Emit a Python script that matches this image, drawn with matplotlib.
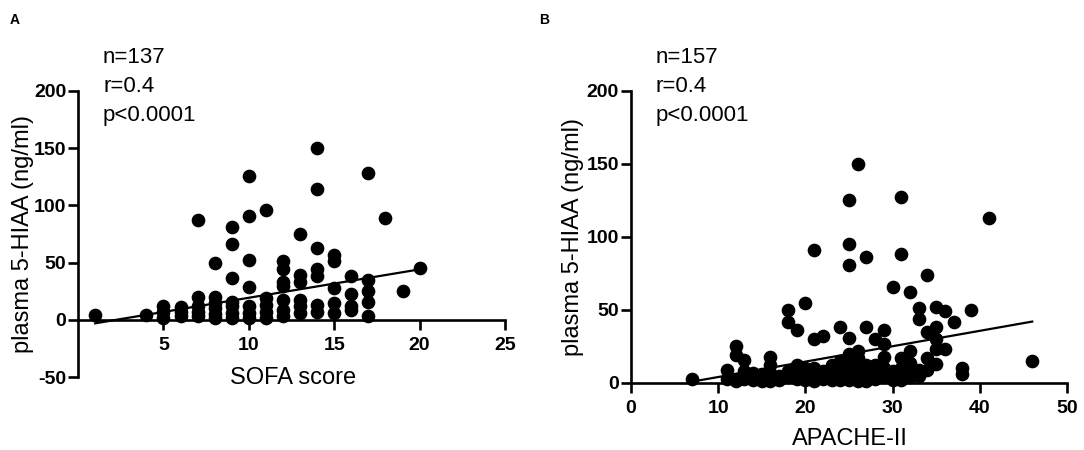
import numpy as np
import matplotlib
matplotlib.use("Agg")
import matplotlib.pyplot as plt

plt.rcParams['font.family'] = ['Liberation Sans', 'DejaVu Sans']
plt.rcParams['axes.unicode_minus'] = False

# panel A: SOFA score vs plasma 5-HIAA
sofa_x = [1, 4, 5, 5, 5, 6, 6, 6,
          7, 7, 7, 7, 7,
          8, 8, 8, 8, 8, 8,
          9, 9, 9, 9, 9, 9, 9,
          10, 10, 10, 10, 10, 10, 10,
          11, 11, 11, 11, 11,
          12, 12, 12, 12, 12, 12, 12,
          13, 13, 13, 13, 13, 13,
          14, 14, 14, 14, 14, 14, 14,
          15, 15, 15, 15, 15,
          16, 16, 16, 16,
          17, 17, 17, 17, 17,
          18, 19, 20]
sofa_y = [4, 4, 12, 7, 2, 11, 7, 3,
          87, 20, 12, 7, 3,
          50, 20, 15, 10, 5, 2,
          81, 66, 37, 16, 12, 6, 2,
          126, 91, 52, 29, 12, 6, 2,
          96, 19, 13, 7, 2,
          51, 44, 33, 30, 17, 9, 3,
          75, 39, 33, 17, 12, 6,
          150, 114, 63, 44, 38, 13, 7,
          57, 51, 28, 15, 6,
          38, 23, 12, 9,
          128, 35, 25, 16, 3,
          89, 25, 45]
fit_a = (2.48, -5.5)      # slope, intercept
fit_a_range = (1, 20)

# panel B: APACHE-II vs plasma 5-HIAA
apache_x = [7, 11, 11, 12, 12, 12, 12, 13, 13, 13, 14, 14, 14, 15, 15, 15,
            16, 16, 16, 16, 16, 17, 17, 18, 18, 18, 18, 19, 19, 19, 19,
            20, 20, 20, 20, 21, 21, 21, 21, 21, 22, 22, 22, 23, 23, 23,
            24, 24, 24, 24, 24,
            25, 25, 25, 25, 25, 25, 25, 25, 25,
            26, 26, 26, 26, 26, 26, 26,
            27, 27, 27, 27, 27, 27,
            28, 28, 28, 28,
            29, 29, 29, 29, 29,
            30, 30, 30, 30,
            31, 31, 31, 31, 31, 31,
            32, 32, 32, 32, 32,
            33, 33, 33, 33,
            34, 34, 34, 34,
            35, 35, 35, 35, 35,
            36, 36, 37, 38, 38, 39, 41, 46]
apache_y = [3, 9, 3, 25, 19, 3, 1, 16, 8, 3, 7, 4, 2, 6, 3, 1,
            18, 12, 7, 3, 1, 5, 2, 50, 42, 8, 4, 36, 12, 7, 3,
            55, 10, 5, 2, 91, 30, 10, 5, 1, 32, 8, 3, 12, 6, 2,
            38, 15, 9, 5, 2,
            125, 95, 81, 31, 20, 14, 9, 5, 2,
            150, 22, 17, 12, 7, 3, 1,
            86, 38, 12, 8, 4, 1,
            30, 12, 7, 3,
            36, 27, 18, 10, 5,
            66, 8, 4, 2,
            127, 88, 17, 10, 6, 2,
            62, 22, 14, 8, 4,
            51, 44, 9, 5,
            74, 35, 17, 9,
            52, 38, 30, 23, 13,
            49, 23, 42, 10, 6, 50, 113, 15]
fit_b = (1.055, -6.5)
fit_b_range = (7, 46)

stats_a = ["n=137", "r=0.4", "p<0.0001"]
stats_b = ["n=157", "r=0.4", "p<0.0001"]


def style_axes(ax, xticks, yticks, xlim, ylim):
    ax.spines['top'].set_visible(False)
    ax.spines['right'].set_visible(False)
    ax.spines['bottom'].set_position(('data', 0))
    for s in ('left', 'bottom'):
        ax.spines[s].set_linewidth(1.9)
    ax.spines['bottom'].set_bounds(xlim[0], xticks[-1])
    ax.set_xticks(xticks)
    ax.set_yticks(yticks)
    ax.set_xlim(*xlim)
    ax.set_ylim(*ylim)
    ax.tick_params(width=1.9, length=7, labelsize=14, pad=1.5)
    ax.tick_params(axis='x', pad=5)
    for lbl in ax.get_xticklabels() + ax.get_yticklabels():
        lbl.set_fontweight('bold')


fig = plt.figure(figsize=(10.84, 4.5), dpi=100)
ax1 = fig.add_axes([0.072, 0.162, 0.397, 0.636])
ax2 = fig.add_axes([0.582, 0.149, 0.404, 0.649])

# panel A
ax1.scatter(sofa_x, sofa_y, s=78, color='black', zorder=3, clip_on=False)
xa = np.array(fit_a_range)
ax1.plot(xa, fit_a[0] * xa + fit_a[1], color='black', lw=1.6, zorder=4)
style_axes(ax1, [5, 10, 15, 20, 25], [-50, 0, 50, 100, 150, 200],
           (0, 25.2), (-50, 200))
ax1.set_xlabel("SOFA score", fontsize=17, labelpad=10)
ax1.set_ylabel("plasma 5-HIAA (ng/ml)", fontsize=17, labelpad=0)
for i, t in enumerate(stats_a):
    ax1.text(0.058, 1.115 - i * 0.1, t, transform=ax1.transAxes,
             fontsize=16, va='center', ha='left')

# panel B
ax2.scatter(apache_x, apache_y, s=78, color='black', zorder=3, clip_on=False)
xb = np.array(fit_b_range)
ax2.plot(xb, fit_b[0] * xb + fit_b[1], color='black', lw=1.6, zorder=4)
style_axes(ax2, [0, 10, 20, 30, 40, 50], [0, 50, 100, 150, 200],
           (0, 50.2), (0, 200))
ax2.set_xlabel("APACHE-II", fontsize=17, labelpad=8)
ax2.set_ylabel("plasma 5-HIAA (ng/ml)", fontsize=17, labelpad=2)
for i, t in enumerate(stats_b):
    ax2.text(0.057, 1.113 - i * 0.098, t, transform=ax2.transAxes,
             fontsize=16, va='center', ha='left')

fig.text(0.009, 0.955, "A", fontsize=10, fontweight='bold', va='center')
fig.text(0.497, 0.955, "B", fontsize=10, fontweight='bold', va='center')

fig.savefig("out.png", dpi=100)
